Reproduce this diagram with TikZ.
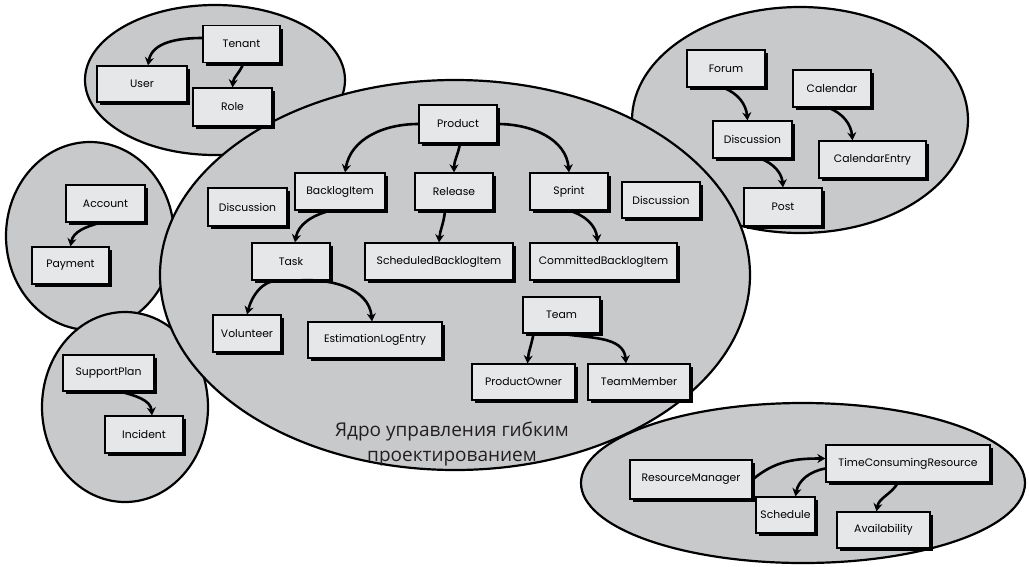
\documentclass[tikz,border=0pt]{standalone}
\usepackage{fontspec}
\usetikzlibrary{arrows.meta,shadows}
\newfontfamily\boxfont{Poppins}
\newfontfamily\capfont{Open Sans}
\definecolor{ellfill}{HTML}{C8C9CB}
\definecolor{boxfill}{HTML}{E6E7E9}
\definecolor{captxt}{HTML}{231F20}
\tikzset{
  x=1pt,y=1pt,
  ctx/.style={draw=black, line width=2.2pt, fill=ellfill},
  box/.style={draw=black, line width=1.3pt, fill=boxfill, inner sep=0pt,
    minimum height=37pt, font=\boxfont\fontsize{10.8}{12}\selectfont,
    drop shadow={shadow xshift=3pt, shadow yshift=-3pt, fill=black, opacity=1}},
  arr/.style={line width=2.6pt, -{Stealth[length=8pt,width=9pt]}},
}
\begin{document}
\begin{tikzpicture}
\useasboundingbox (0,0) rectangle (1029,-566);
\fill[white] (0,0) rectangle (1029,-566);
% outer contexts
\draw[ctx] (215,-80) ellipse [x radius=130, y radius=75];
\draw[ctx] (800,-120) ellipse [x radius=168, y radius=113];
\draw[ctx] (90,-236) ellipse [x radius=84, y radius=94];
\draw[ctx] (125,-407) ellipse [x radius=83, y radius=95];
\draw[ctx] (803,-483) ellipse [x radius=222, y radius=80];
% core
\draw[ctx] (455,-275) ellipse [x radius=295, y radius=195];
\node[font=\capfont\fontsize{19}{25}\selectfont, text=captxt, align=center] (cap) at (452,-444)
  {Ядро управления гибким\\проектированием};
% boxes
\node[box, minimum width=77pt] (tenant) at (241.5,-44) {Tenant};
\node[box, minimum width=90pt, minimum height=36pt] (user) at (142,-84) {User};
\node[box, minimum width=79pt, minimum height=38pt] (role) at (232.5,-107) {Role};

\node[box, minimum width=78pt, minimum height=38pt] (product) at (458,-124) {Product};
\node[box, minimum width=90pt] (backlog) at (340,-191.5) {BacklogItem};
\node[box, minimum width=78pt] (release) at (454,-191.5) {Release};
\node[box, minimum width=78pt] (sprint) at (569,-191.5) {Sprint};
\node[box, minimum width=79pt, minimum height=38pt] (discl) at (247.5,-207) {Discussion};
\node[box, minimum width=78pt, minimum height=36pt] (discr) at (661,-200) {Discussion};
\node[box, minimum width=78pt] (task) at (291,-261.5) {Task};
\node[box, minimum width=148pt] (sbi) at (439,-261.5) {ScheduledBacklogItem};
\node[box, minimum width=147pt] (cbi) at (603.5,-261.5) {CommittedBacklogItem};
\node[box, minimum width=68pt] (volunteer) at (247,-333.5) {Volunteer};
\node[box, minimum width=134pt, minimum height=36pt] (estim) at (375,-340) {EstimationLogEntry};
\node[box, minimum width=77pt, minimum height=36pt] (team) at (561.5,-315) {Team};
\node[box, minimum width=103pt, minimum height=36pt] (po) at (523.5,-382) {ProductOwner};
\node[box, minimum width=102pt, minimum height=36pt] (tm) at (639,-382) {TeamMember};

\node[box, minimum width=78pt] (forum) at (726,-68.5) {Forum};
\node[box, minimum width=78pt] (calendar) at (832,-88.5) {Calendar};
\node[box, minimum width=79pt] (discf) at (752.5,-139.5) {Discussion};
\node[box, minimum width=107pt] (calentry) at (872.5,-159.5) {CalendarEntry};
\node[box, minimum width=78pt, minimum height=38pt] (post) at (783,-207) {Post};

\node[box, minimum width=79pt] (account) at (105.5,-203.5) {Account};
\node[box, minimum width=77pt] (payment) at (70.5,-265.5) {Payment};
\node[box, minimum width=91pt, minimum height=36pt] (support) at (108.5,-373) {SupportPlan};
\node[box, minimum width=78pt] (incident) at (144,-434.5) {Incident};

\node[box, minimum width=122pt, minimum height=39pt] (rm) at (691,-479.5) {ResourceManager};
\node[box, minimum width=164pt] (tcr) at (908,-463.5) {TimeConsumingResource};
\node[box, minimum width=59pt, minimum height=36pt] (schedule) at (785.5,-515) {Schedule};
\node[box, minimum width=93pt, minimum height=36pt] (avail) at (883.5,-530) {Availability};
% arrows
\draw[arr] ([yshift=6pt]tenant.west) to[out=180,in=80] ([xshift=6pt]user.north);
\draw[arr] ([xshift=2pt]tenant.south) to[out=-110,in=85] (role.north);
\draw[arr] (product.west) to[out=180,in=80] ([xshift=5pt]backlog.north);
\draw[arr] ([xshift=2pt]product.south) to[out=-100,in=90] (release.north);
\draw[arr] (product.east) to[out=0,in=95] (sprint.north);
\draw[arr] ([xshift=-10pt]backlog.south) to[out=-165,in=80] ([xshift=4pt]task.north);
\draw[arr] ([xshift=-9pt]release.south) to[out=-95,in=85] (sbi.north);
\draw[arr] (sprint.south) to[out=-15,in=95] ([xshift=-6pt]cbi.north);
\draw[arr] ([xshift=-10pt]task.south) to[out=175,in=75] (volunteer.north);
\draw[arr] ([xshift=5pt]task.south) to[out=5,in=95] ([xshift=-3pt]estim.north);
\draw[arr] ([xshift=-28pt]team.south) to[out=-100,in=85] ([xshift=4pt]po.north);
\draw[arr] (team.south) to[out=-10,in=95] ([xshift=-13pt]tm.north);
\draw[arr] ([xshift=-3pt]forum.south) to[out=-20,in=95] ([xshift=-5pt]discf.north);
\draw[arr] ([xshift=8pt]discf.south) to[out=-20,in=95] (post.north);
\draw[arr] ([xshift=-4pt]calendar.south) to[out=-20,in=95] ([xshift=-20pt]calentry.north);
\draw[arr] ([xshift=-5pt]account.south) to[out=-165,in=80] (payment.north);
\draw[arr] ([xshift=12pt]support.south) to[out=-15,in=95] ([xshift=8pt]incident.north);
\draw[arr] (rm.east) to[out=40,in=180] ([yshift=5pt]tcr.west);
\draw[arr] ([yshift=-5pt]tcr.west) to[out=190,in=80] ([xshift=10pt]schedule.north);
\draw[arr] ([xshift=-10pt]tcr.south) to[out=-120,in=80] ([xshift=-7pt]avail.north);
\end{tikzpicture}
\end{document}
